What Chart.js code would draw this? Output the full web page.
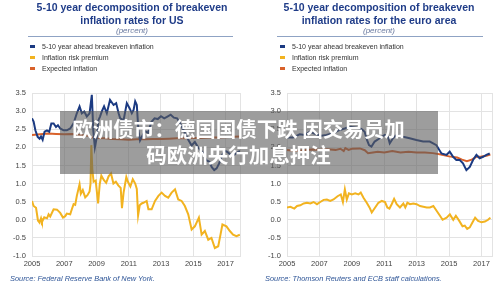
<!DOCTYPE html>
<html>
<head>
<meta charset="utf-8">
<script src="https://cdn.jsdelivr.net/npm/chart.js@4.4.1/dist/chart.umd.min.js"></script>
<style>
  html, body { margin: 0; padding: 0; background: #fff; }
  #wrap { position: relative; width: 500px; height: 285px; overflow: hidden; font-family: "Liberation Sans", Arial, sans-serif; }
  .panel { position: absolute; top: 0; width: 250px; height: 285px; }
  .panel canvas { position: absolute; left: 0; top: 0; }
  .title { position: absolute; top: 1px; width: 236px; text-align: center; font-weight: bold; font-size: 10.5px; line-height: 12.5px; color: #1f3c88; }
  .unit { position: absolute; top: 25.5px; width: 236px; text-align: center; font-style: italic; font-size: 8px; line-height: 10px; color: #6a7aa0; }
  .rule { position: absolute; top: 36px; height: 1px; background: #8fa3c4; }
  .legend { position: absolute; top: 40.5px; font-size: 7px; line-height: 11px; color: #333; }
  .legend i { display: inline-block; width: 5px; height: 3px; margin-right: 7px; vertical-align: 1px; }
  .source { position: absolute; top: 274px; font-style: italic; font-size: 7.4px; line-height: 10px; color: #2e5597; white-space: nowrap; }
  #banner { position: absolute; left: 60px; top: 111px; width: 378px; height: 63px; background: rgba(92, 92, 92, 0.6);
            color: #fff; font-family: "Noto Sans CJK SC", sans-serif; font-weight: bold; font-size: 20.5px; line-height: 26px;
            text-align: center; box-sizing: border-box; padding-top: 4px; padding-right: 21px; }
</style>
</head>
<body>
<div id="wrap">
  <div class="panel" style="left:0">
    <canvas id="usChart" width="250" height="285"></canvas>
    <div class="title" style="left:14px">5-10 year decomposition of breakeven<br>inflation rates for US</div>
    <div class="unit" style="left:14px">(percent)</div>
    <div class="rule" style="left:28px;width:205px"></div>
    <div class="legend" style="left:30px" id="usLegend"></div>
    <div class="source" style="left:10px">Source: Federal Reserve Bank of New York.</div>
  </div>
  <div class="panel" style="left:250px">
    <canvas id="euChart" width="250" height="285"></canvas>
    <div class="title" style="left:11px">5-10 year decomposition of breakeven<br>inflation rates for the euro area</div>
    <div class="unit" style="left:11px">(percent)</div>
    <div class="rule" style="left:27px;width:206px"></div>
    <div class="legend" style="left:30px" id="euLegend"></div>
    <div class="source" style="left:15px">Source: Thomson Reuters and ECB staff calculations.</div>
  </div>
  <div id="banner">欧洲债市：德国国债下跌 因交易员加<br>码欧洲央行加息押注</div>
</div>
<script>
// series names and colours
const seriesNames = ['5-10 year ahead breakeven inflation', 'Inflation risk premium', 'Expected inflation'];
const seriesColors = ['#1b3a82', '#f2b320', '#d9622b'];

// axis ticks
const xTickYears = [2005, 2007, 2009, 2011, 2013, 2015, 2017];
const yMin = -1.0, yMax = 3.5, yStep = 0.5;

// US (Federal Reserve Bank of New York)
const usBreakevenYears = [2005.00, 2005.10, 2005.21, 2005.35, 2005.47, 2005.56, 2005.66, 2005.78, 2005.93, 2006.07,
  2006.20, 2006.34, 2006.49, 2006.61, 2006.75, 2006.96, 2007.16, 2007.37, 2007.58, 2007.78, 2007.95, 2008.09, 2008.24,
  2008.40, 2008.57, 2008.71, 2008.80, 2008.90, 2009.02, 2009.12, 2009.22, 2009.33, 2009.47, 2009.64, 2009.84, 2010.06,
  2010.22, 2010.37, 2010.47, 2010.68, 2010.88, 2011.05, 2011.19, 2011.30, 2011.40, 2011.50, 2011.60, 2011.70, 2011.80,
  2012.00, 2012.20, 2012.40, 2012.60, 2012.80, 2013.00, 2013.20, 2013.40, 2013.60, 2013.80, 2014.00, 2014.20, 2014.45,
  2014.70, 2014.90, 2015.10, 2015.30, 2015.60, 2015.80, 2016.00, 2016.15, 2016.30, 2016.45, 2016.60, 2016.80, 2016.95,
  2017.10, 2017.30, 2017.50, 2017.70, 2017.90];
const usBreakeven = [2.80, 2.71, 2.47, 2.29, 2.24, 2.30, 2.21, 2.43, 2.47, 2.43,
  2.66, 2.66, 2.56, 2.61, 2.52, 2.47, 2.47, 2.52, 2.66, 2.94, 3.13, 2.94, 2.99,
  2.85, 2.94, 3.45, 2.47, 2.00, 2.28, 2.75, 2.85, 2.99, 3.13, 2.94, 3.31, 3.17,
  3.22, 2.94, 2.80, 2.75, 3.22, 3.08, 2.94, 3.03, 3.27, 3.17, 2.47, 2.19, 2.28,
  2.45, 2.40, 2.70, 2.80, 2.78, 2.86, 2.80, 2.85, 2.90, 2.82, 2.80, 2.65, 2.43,
  2.20, 2.05, 2.15, 2.00, 1.85, 1.65, 1.60, 1.45, 1.37, 1.42, 1.55, 1.80, 1.90,
  1.88, 1.80, 1.78, 1.85, 1.90];

const usPremiumYears = [2005.00, 2005.10, 2005.25, 2005.37, 2005.47, 2005.56, 2005.62, 2005.76, 2005.93, 2006.03,
  2006.13, 2006.34, 2006.55, 2006.75, 2006.92, 2007.06, 2007.16, 2007.37, 2007.47, 2007.58, 2007.68, 2007.78, 2007.95,
  2008.03, 2008.15, 2008.30, 2008.44, 2008.57, 2008.63, 2008.68, 2008.74, 2008.82, 2008.95, 2009.10, 2009.20, 2009.30,
  2009.45, 2009.60, 2009.75, 2009.90, 2010.05, 2010.20, 2010.35, 2010.50, 2010.58, 2010.68, 2010.85, 2010.95, 2011.10,
  2011.25, 2011.40, 2011.50, 2011.58, 2011.68, 2011.80, 2011.91, 2012.11, 2012.22, 2012.42, 2012.63, 2012.84, 2013.04,
  2013.25, 2013.45, 2013.66, 2013.87, 2014.07, 2014.28, 2014.48, 2014.69, 2014.90, 2015.10, 2015.35, 2015.52, 2015.72,
  2015.93, 2016.13, 2016.34, 2016.55, 2016.69, 2016.81, 2017.06, 2017.27, 2017.47, 2017.68, 2017.89];
const usPremium = [0.52, 0.38, 0.33, -0.02, -0.08, 0.04, -0.06, 0.07, 0.04, 0.15,
  0.09, 0.29, 0.28, 0.19, 0.06, 0.10, 0.17, 0.15, 0.29, 0.43, 0.41, 0.66, 0.98,
  0.72, 0.82, 0.62, 0.68, 0.78, 1.00, 2.06, 1.40, 1.05, 1.08, 0.45, 0.98, 1.22,
  1.10, 1.02, 1.20, 1.28, 1.00, 1.05, 0.95, 0.88, 0.32, 0.75, 1.18, 1.05, 0.92,
  1.12, 1.00, 0.85, 0.12, 0.40, 0.45, 0.47, 0.52, 0.29, 0.29, 0.52, 0.66, 0.75,
  0.66, 0.61, 0.75, 0.84, 0.56, 0.52, 0.38, 0.15, -0.27, -0.18, 0.06, -0.41, -0.31,
  -0.55, -0.50, -0.78, -0.73, -0.41, -0.13, -0.18, -0.31, -0.41, -0.45, -0.41];

const usExpectedYears = [2005.0, 2005.5, 2006.0, 2006.5, 2007.0, 2007.5, 2008.0, 2008.5, 2008.7, 2009.0, 2009.5,
  2010.0, 2010.5, 2011.0, 2011.5, 2012.0, 2012.5, 2013.0, 2013.5, 2014.0, 2014.5, 2015.0, 2015.5, 2016.0, 2016.5,
  2017.0, 2017.5, 2017.9];
const usExpected = [2.34, 2.36, 2.38, 2.37, 2.36, 2.37, 2.34, 2.32, 2.28, 2.26, 2.25,
  2.23, 2.22, 2.21, 2.22, 2.22, 2.23, 2.23, 2.24, 2.25, 2.25, 2.26, 2.26, 2.27, 2.27,
  2.28, 2.29, 2.30];

// Euro area (Thomson Reuters and ECB staff calculations)
const euBreakevenYears = [2005.00, 2005.37, 2005.78, 2006.09, 2006.40, 2006.81, 2007.12, 2007.43, 2007.84, 2008.25,
  2008.56, 2008.87, 2009.28, 2009.59, 2009.79, 2009.94, 2010.06, 2010.21, 2010.41, 2010.72, 2011.03, 2011.23, 2011.34,
  2011.54, 2011.75, 2012.16, 2012.57, 2012.98, 2013.40, 2013.81, 2014.22, 2014.53, 2014.84, 2015.04, 2015.25, 2015.45,
  2015.66, 2015.86, 2016.07, 2016.28, 2016.48, 2016.69, 2016.89, 2017.10, 2017.30, 2017.51];
const euBreakeven = [2.27, 2.27, 2.36, 2.34, 2.43, 2.36, 2.32, 2.34, 2.39, 2.48,
  2.52, 2.57, 2.54, 2.51, 2.43, 2.20, 2.06, 2.02, 2.16, 2.25, 2.34, 2.29, 2.11,
  2.25, 2.34, 2.29, 2.25, 2.20, 2.16, 2.16, 2.06, 1.83, 1.79, 1.88, 1.74, 1.65,
  1.65, 1.56, 1.37, 1.46, 1.65, 1.79, 1.70, 1.74, 1.79, 1.83];

const euPremiumYears = [2005.00, 2005.21, 2005.45, 2005.62, 2005.82, 2006.03, 2006.23, 2006.44, 2006.64, 2006.85,
  2007.05, 2007.26, 2007.46, 2007.67, 2007.87, 2008.12, 2008.32, 2008.45, 2008.57, 2008.69, 2008.82, 2009.00, 2009.21,
  2009.41, 2009.55, 2009.72, 2009.92, 2010.09, 2010.23, 2010.44, 2010.64, 2010.85, 2011.05, 2011.19, 2011.32, 2011.46,
  2011.61, 2011.77, 2011.97, 2012.18, 2012.30, 2012.43, 2012.59, 2012.79, 2013.00, 2013.21, 2013.41, 2013.62, 2013.82,
  2014.03, 2014.23, 2014.44, 2014.60, 2014.85, 2015.05, 2015.26, 2015.42, 2015.63, 2015.83, 2015.97, 2016.12, 2016.28,
  2016.45, 2016.61, 2016.79, 2017.00, 2017.21, 2017.41, 2017.55];
const euPremium = [0.34, 0.36, 0.31, 0.38, 0.40, 0.45, 0.47, 0.45, 0.49, 0.43,
  0.49, 0.55, 0.56, 0.52, 0.56, 0.65, 0.70, 0.49, 0.84, 0.56, 0.73, 0.70, 0.73,
  0.70, 0.75, 0.61, 0.47, 0.34, 0.20, 0.34, 0.47, 0.52, 0.49, 0.34, 0.31, 0.43,
  0.58, 0.43, 0.34, 0.45, 0.34, 0.47, 0.43, 0.45, 0.43, 0.38, 0.36, 0.34, 0.34,
  0.38, 0.25, 0.11, 0.00, 0.06, 0.15, 0.00, 0.11, -0.03, -0.18, -0.16, -0.25, -0.21,
  -0.07, 0.06, -0.03, -0.07, -0.05, 0.00, 0.06];

const euExpectedYears = [2005.0, 2005.5, 2006.0, 2006.5, 2007.0, 2007.5, 2008.0, 2008.3, 2008.5, 2008.6, 2008.8,
  2009.0, 2009.5, 2009.8, 2010.0, 2010.3, 2010.6, 2011.0, 2011.5, 2012.0, 2012.5, 2013.0, 2013.5, 2014.0, 2014.5,
  2015.0, 2015.5, 2015.8, 2016.1, 2016.4, 2016.7, 2017.0, 2017.3, 2017.55];
const euExpected = [1.93, 1.90, 1.92, 1.94, 1.93, 1.95, 1.93, 1.96, 1.90, 1.98, 1.93,
  1.96, 1.97, 1.92, 1.84, 1.86, 1.88, 1.86, 1.90, 1.86, 1.88, 1.86, 1.86, 1.84, 1.80,
  1.75, 1.72, 1.66, 1.62, 1.66, 1.74, 1.75, 1.77, 1.80];

Chart.defaults.font.family = '"Liberation Sans", Arial, sans-serif';
Chart.defaults.font.size = 7.5;
Chart.defaults.color = '#444';

function points(xs, ys) {
  return xs.map((x, i) => ({ x: x, y: ys[i] }));
}

function fillLegend(id) {
  const el = document.getElementById(id);
  el.innerHTML = seriesNames.map((name, i) =>
    `<div><i style="background:${seriesColors[i]}"></i>${name}</div>`).join('');
}

function makeChart(canvasId, series, xMax, axisWidth, padRight) {
  const ctx = document.getElementById(canvasId).getContext('2d');
  return new Chart(ctx, {
    type: 'line',
    data: {
      datasets: series.map((s, i) => ({
        label: seriesNames[i],
        data: points(s[0], s[1]),
        borderColor: seriesColors[i],
        borderWidth: 2,
        pointRadius: 0,
        tension: 0,
        fill: false
      }))
    },
    options: {
      responsive: false,
      animation: false,
      parsing: false,
      layout: { padding: { top: 93, left: 0, right: padRight, bottom: 14 } },
      plugins: { legend: { display: false }, tooltip: { enabled: false } },
      scales: {
        x: {
          type: 'linear',
          min: 2005,
          max: xMax,
          afterBuildTicks: scale => {
            scale.ticks = xTickYears.concat([xMax]).map(v => ({ value: v }));
          },
          afterFit: scale => { scale.height = 15; },
          ticks: {
            autoSkip: false,
            maxRotation: 0,
            padding: 3,
            color: '#444',
            callback: v => xTickYears.includes(v) ? String(v) : ''
          },
          grid: { color: '#e3e3e3', lineWidth: 1, drawTicks: false },
          border: { display: true, color: '#e3e3e3' }
        },
        y: {
          min: yMin,
          max: yMax,
          afterFit: scale => { scale.width = axisWidth; },
          ticks: {
            stepSize: yStep,
            padding: 6,
            color: '#444',
            callback: v => Number(v).toFixed(1)
          },
          grid: { color: '#e3e3e3', lineWidth: 1, drawTicks: false },
          border: { display: true, color: '#e3e3e3' }
        }
      }
    }
  });
}

fillLegend('usLegend');
fillLegend('euLegend');

makeChart('usChart', [
  [usBreakevenYears, usBreakeven],
  [usPremiumYears, usPremium],
  [usExpectedYears, usExpected]
], 2017.9, 32, 10);

makeChart('euChart', [
  [euBreakevenYears, euBreakeven],
  [euPremiumYears, euPremium],
  [euExpectedYears, euExpected]
], 2017.65, 37, 8);
</script>
</body>
</html>
